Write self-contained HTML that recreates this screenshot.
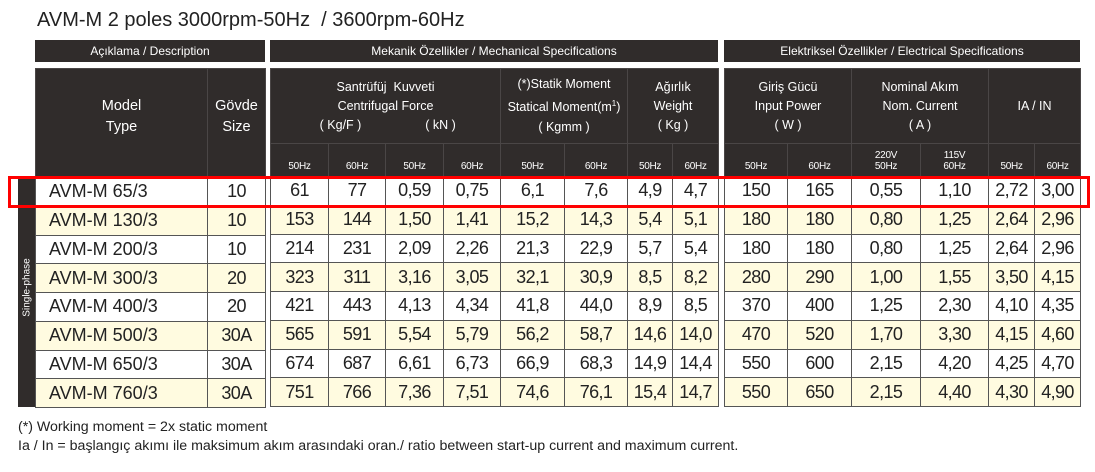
<!DOCTYPE html>
<html><head><meta charset="utf-8"><style>
body{margin:0;width:1095px;height:472px;background:#fff;position:relative;overflow:hidden;font-family:"Liberation Sans",sans-serif;}
.abs{position:absolute;}
.title{left:37px;top:9px;font-size:20px;color:#222;white-space:pre;}
.bar{background:#302c2b;color:#fff;font-size:12px;text-align:center;line-height:22px;top:40px;height:22px;}
table{position:absolute;border-collapse:collapse;table-layout:fixed;}
td{padding:0;text-align:center;border:1px solid #555;color:#222;font-size:18px;letter-spacing:-0.6px;white-space:nowrap;overflow:hidden;}
.h td{background:#302c2b;color:#fff;font-size:12.5px;letter-spacing:0;border-color:#4a4646;line-height:19px;}
.hz td{background:#302c2b;color:#fff;font-size:10px;letter-spacing:-0.3px;vertical-align:bottom;padding-bottom:4px;line-height:11px;border-color:#4a4646;}
tr.d td{height:27.75px;}
tr.c td{background:#fffbe0;}
td.m{text-align:left;padding-left:13px;font-size:18px;letter-spacing:0;}
.side{left:18px;top:177px;width:17px;height:230px;background:#302c2b;}
.sidet{left:-13px;top:282px;width:80px;color:#fff;font-size:10px;transform:rotate(-90deg);text-align:center;}
.red{left:8px;top:176px;width:1076px;height:26px;border:3px solid #f00;}
.foot{left:18px;font-size:14.2px;color:#222;}
</style></head><body>
<div class="abs title">AVM-M 2 poles 3000rpm-50Hz  / 3600rpm-60Hz</div>
<div class="abs bar" style="left:35px;width:230px;">Açıklama / Description</div>
<div class="abs bar" style="left:270px;width:448px;">Mekanik Özellikler / Mechanical Specifications</div>
<div class="abs bar" style="left:724px;width:356px;">Elektriksel Özellikler / Electrical Specifications</div>

<table style="left:35px;top:68px;width:230px;">
<colgroup><col style="width:172px"><col style="width:58px"></colgroup>
<tr class="h"><td style="height:108px;font-size:14.5px;line-height:21px;"><div style="margin-top:-12px">Model<br>Type</div></td><td style="font-size:14.5px;line-height:21px;"><div style="margin-top:-12px">Gövde<br>Size</div></td></tr>
<tr class="d"><td class="m">AVM-M 65/3</td><td>10</td></tr>
<tr class="d c"><td class="m">AVM-M 130/3</td><td>10</td></tr>
<tr class="d"><td class="m">AVM-M 200/3</td><td>10</td></tr>
<tr class="d c"><td class="m">AVM-M 300/3</td><td>20</td></tr>
<tr class="d"><td class="m">AVM-M 400/3</td><td>20</td></tr>
<tr class="d c"><td class="m">AVM-M 500/3</td><td>30A</td></tr>
<tr class="d"><td class="m">AVM-M 650/3</td><td>30A</td></tr>
<tr class="d c"><td class="m">AVM-M 760/3</td><td>30A</td></tr>
</table>

<table style="left:270px;top:68px;width:448px;">
<colgroup><col style="width:58px"><col style="width:57px"><col style="width:58px"><col style="width:57px"><col style="width:64px"><col style="width:63px"><col style="width:45px"><col style="width:46px"></colgroup>
<tr class="h"><td colspan="4" style="height:74px;">Santrüfüj&nbsp; Kuvveti<br>Centrifugal Force<br><span style="display:inline-block;width:110px">( Kg/F )</span><span style="display:inline-block;width:90px">( kN )</span></td><td colspan="2">(*)Statik Moment<br>Statical Moment(m<sup style="font-size:8px">1</sup>)<br>( Kgmm )</td><td colspan="2">Ağırlık<br>Weight<br>( Kg )</td></tr>
<tr class="hz"><td style="height:28px">50Hz</td><td>60Hz</td><td>50Hz</td><td>60Hz</td><td>50Hz</td><td>60Hz</td><td>50Hz</td><td>60Hz</td></tr>
<tr class="d"><td>61</td><td>77</td><td>0,59</td><td>0,75</td><td>6,1</td><td>7,6</td><td>4,9</td><td>4,7</td></tr>
<tr class="d c"><td>153</td><td>144</td><td>1,50</td><td>1,41</td><td>15,2</td><td>14,3</td><td>5,4</td><td>5,1</td></tr>
<tr class="d"><td>214</td><td>231</td><td>2,09</td><td>2,26</td><td>21,3</td><td>22,9</td><td>5,7</td><td>5,4</td></tr>
<tr class="d c"><td>323</td><td>311</td><td>3,16</td><td>3,05</td><td>32,1</td><td>30,9</td><td>8,5</td><td>8,2</td></tr>
<tr class="d"><td>421</td><td>443</td><td>4,13</td><td>4,34</td><td>41,8</td><td>44,0</td><td>8,9</td><td>8,5</td></tr>
<tr class="d c"><td>565</td><td>591</td><td>5,54</td><td>5,79</td><td>56,2</td><td>58,7</td><td>14,6</td><td>14,0</td></tr>
<tr class="d"><td>674</td><td>687</td><td>6,61</td><td>6,73</td><td>66,9</td><td>68,3</td><td>14,9</td><td>14,4</td></tr>
<tr class="d c"><td>751</td><td>766</td><td>7,36</td><td>7,51</td><td>74,6</td><td>76,1</td><td>15,4</td><td>14,7</td></tr>
</table>

<table style="left:724px;top:68px;width:356px;">
<colgroup><col style="width:63px"><col style="width:64px"><col style="width:69px"><col style="width:68px"><col style="width:46px"><col style="width:46px"></colgroup>
<tr class="h"><td colspan="2" style="height:74px;">Giriş Gücü<br>Input Power<br>( W )</td><td colspan="2">Nominal Akım<br>Nom. Current<br>( A )</td><td colspan="2">IA / IN</td></tr>
<tr class="hz"><td style="height:28px">50Hz</td><td>60Hz</td><td>220V<br>50Hz</td><td>115V<br>60Hz</td><td>50Hz</td><td>60Hz</td></tr>
<tr class="d"><td>150</td><td>165</td><td>0,55</td><td>1,10</td><td>2,72</td><td>3,00</td></tr>
<tr class="d c"><td>180</td><td>180</td><td>0,80</td><td>1,25</td><td>2,64</td><td>2,96</td></tr>
<tr class="d"><td>180</td><td>180</td><td>0,80</td><td>1,25</td><td>2,64</td><td>2,96</td></tr>
<tr class="d c"><td>280</td><td>290</td><td>1,00</td><td>1,55</td><td>3,50</td><td>4,15</td></tr>
<tr class="d"><td>370</td><td>400</td><td>1,25</td><td>2,30</td><td>4,10</td><td>4,35</td></tr>
<tr class="d c"><td>470</td><td>520</td><td>1,70</td><td>3,30</td><td>4,15</td><td>4,60</td></tr>
<tr class="d"><td>550</td><td>600</td><td>2,15</td><td>4,20</td><td>4,25</td><td>4,70</td></tr>
<tr class="d c"><td>550</td><td>650</td><td>2,15</td><td>4,40</td><td>4,30</td><td>4,90</td></tr>
</table>

<div class="abs side"></div>
<div class="abs sidet">Single-phase</div>
<div class="abs red"></div>
<div class="abs foot" style="top:419px;">(*) Working moment = 2x static moment</div>
<div class="abs foot" style="top:438px;">Ia / In = başlangıç akımı ile maksimum akım arasındaki oran./ ratio between start-up current and maximum current.</div>
</body></html>
